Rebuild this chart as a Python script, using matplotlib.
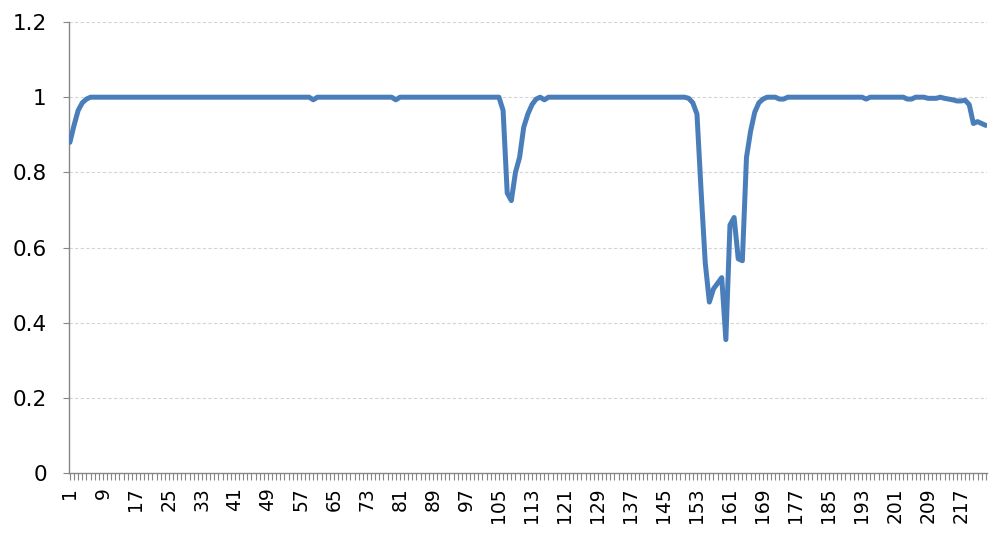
import matplotlib
matplotlib.use('Agg')
import matplotlib.pyplot as plt

# values, one per category (1..223)
values = [
    0.88, 0.925, 0.965, 0.985, 0.995, 1, 1, 1, 1, 1,
    1, 1, 1, 1, 1, 1, 1, 1, 1, 1,
    1, 1, 1, 1, 1, 1, 1, 1, 1, 1,
    1, 1, 1, 1, 1, 1, 1, 1, 1, 1,
    1, 1, 1, 1, 1, 1, 1, 1, 1, 1,
    1, 1, 1, 1, 1, 1, 1, 1, 1, 0.993,
    1, 1, 1, 1, 1, 1, 1, 1, 1, 1,
    1, 1, 1, 1, 1, 1, 1, 1, 1, 0.993,
    1, 1, 1, 1, 1, 1, 1, 1, 1, 1,
    1, 1, 1, 1, 1, 1, 1, 1, 1, 1,
    1, 1, 1, 1, 1, 0.965, 0.745, 0.725, 0.80, 0.84,
    0.92, 0.955, 0.98, 0.995, 1, 0.993, 1, 1, 1, 1,
    1, 1, 1, 1, 1, 1, 1, 1, 1, 1,
    1, 1, 1, 1, 1, 1, 1, 1, 1, 1,
    1, 1, 1, 1, 1, 1, 1, 1, 1, 1,
    0.997, 0.985, 0.955, 0.75, 0.56, 0.455, 0.49, 0.505, 0.52, 0.355,
    0.66, 0.68, 0.57, 0.565, 0.84, 0.91, 0.96, 0.985, 0.995, 1,
    1, 1, 0.995, 0.995, 1, 1, 1, 1, 1, 1,
    1, 1, 1, 1, 1, 1, 1, 1, 1, 1,
    1, 1, 1, 0.995, 1, 1, 1, 1, 1, 1,
    1, 1, 1, 0.995, 0.995, 1, 1, 1, 0.997, 0.997,
    0.997, 1, 0.997, 0.995, 0.993, 0.99, 0.99, 0.992, 0.98, 0.93,
    0.935, 0.93, 0.925,
]
categories = list(range(1, len(values) + 1))
label_step = 8
y_ticks = [0, 0.2, 0.4, 0.6, 0.8, 1.0, 1.2]
y_labels = ['0', '0.2', '0.4', '0.6', '0.8', '1', '1.2']

fig = plt.figure(figsize=(10, 5.37), dpi=100)
ax = fig.add_axes([0.069, 0.119, 0.918, 0.840])

ax.plot(categories, values, color='#4a7ebb', lw=3.6, solid_joinstyle='round',
        solid_capstyle='round', zorder=3)

ax.set_xlim(0.78, 223.3)
ax.set_ylim(0, 1.2)

ax.set_yticks(y_ticks)
ax.set_yticklabels(y_labels)
ax.set_xticks(categories)
ax.set_xticklabels([str(c) if (c - 1) % label_step == 0 else '' for c in categories],
                   rotation=90)

for y in y_ticks[1:]:
    ax.axhline(y, color='#d4d4d4', lw=0.8, ls=(0, (3, 2)), zorder=1)

for s in ['top', 'right']:
    ax.spines[s].set_visible(False)
for s in ['left', 'bottom']:
    ax.spines[s].set_color('#868686')
    ax.spines[s].set_linewidth(1.0)

ax.tick_params(axis='x', length=5, width=0.8, color='#868686', pad=5,
               labelsize=13.5, labelcolor='#000000')
ax.tick_params(axis='y', length=4, width=0.8, color='#868686', pad=12,
               labelsize=15.5, labelcolor='#000000')

fig.savefig('out.png', dpi=100)
